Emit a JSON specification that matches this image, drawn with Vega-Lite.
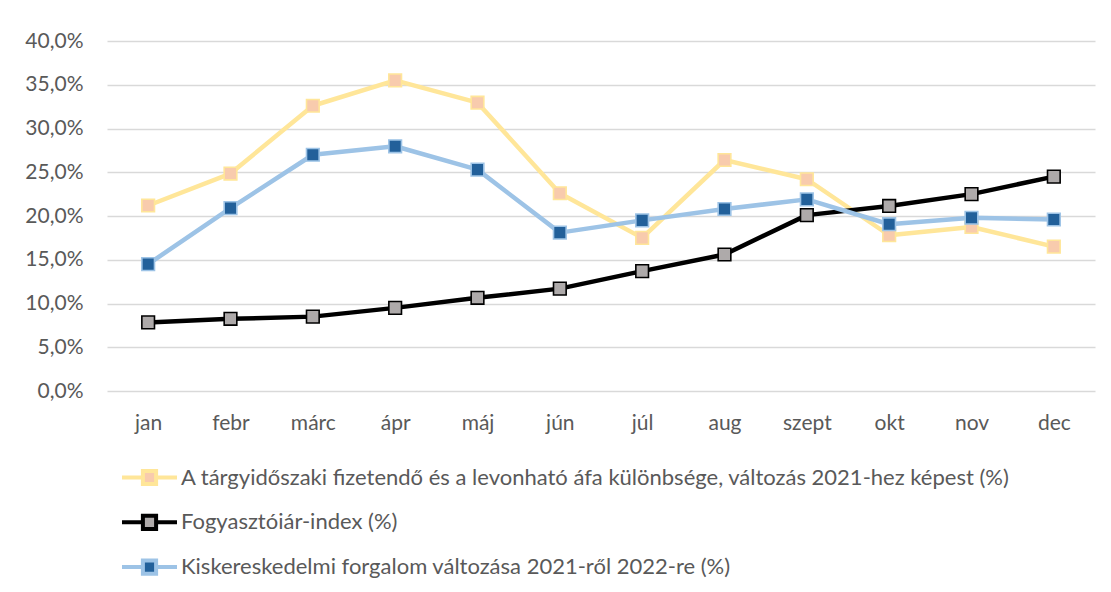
{
  "$schema": "https://vega.github.io/schema/vega-lite/v6.json",
  "autosize": "none",
  "width": 988,
  "height": 350,
  "padding": {"left": 107, "top": 41, "right": 16, "bottom": 201},
  "background": "white",
  "config": {
    "view": {"stroke": null},
    "font": "Lato"
  },
  "data": {
    "values": [
      {"month": "jan", "series": "A tárgyidőszaki fizetendő és a levonható áfa különbsége, változás 2021-hez képest (%)", "value": 0.212},
      {"month": "febr", "series": "A tárgyidőszaki fizetendő és a levonható áfa különbsége, változás 2021-hez képest (%)", "value": 0.2485},
      {"month": "márc", "series": "A tárgyidőszaki fizetendő és a levonható áfa különbsége, változás 2021-hez képest (%)", "value": 0.326},
      {"month": "ápr", "series": "A tárgyidőszaki fizetendő és a levonható áfa különbsége, változás 2021-hez képest (%)", "value": 0.355},
      {"month": "máj", "series": "A tárgyidőszaki fizetendő és a levonható áfa különbsége, változás 2021-hez képest (%)", "value": 0.3295},
      {"month": "jún", "series": "A tárgyidőszaki fizetendő és a levonható áfa különbsége, változás 2021-hez képest (%)", "value": 0.226},
      {"month": "júl", "series": "A tárgyidőszaki fizetendő és a levonható áfa különbsége, változás 2021-hez képest (%)", "value": 0.175},
      {"month": "aug", "series": "A tárgyidőszaki fizetendő és a levonható áfa különbsége, változás 2021-hez képest (%)", "value": 0.264},
      {"month": "szept", "series": "A tárgyidőszaki fizetendő és a levonható áfa különbsége, változás 2021-hez képest (%)", "value": 0.242},
      {"month": "okt", "series": "A tárgyidőszaki fizetendő és a levonható áfa különbsége, változás 2021-hez képest (%)", "value": 0.178},
      {"month": "nov", "series": "A tárgyidőszaki fizetendő és a levonható áfa különbsége, változás 2021-hez képest (%)", "value": 0.1875},
      {"month": "dec", "series": "A tárgyidőszaki fizetendő és a levonható áfa különbsége, változás 2021-hez képest (%)", "value": 0.165},
      {"month": "jan", "series": "Fogyasztóiár-index (%)", "value": 0.0784},
      {"month": "febr", "series": "Fogyasztóiár-index (%)", "value": 0.0825},
      {"month": "márc", "series": "Fogyasztóiár-index (%)", "value": 0.085},
      {"month": "ápr", "series": "Fogyasztóiár-index (%)", "value": 0.095},
      {"month": "máj", "series": "Fogyasztóiár-index (%)", "value": 0.1065},
      {"month": "jún", "series": "Fogyasztóiár-index (%)", "value": 0.117},
      {"month": "júl", "series": "Fogyasztóiár-index (%)", "value": 0.137},
      {"month": "aug", "series": "Fogyasztóiár-index (%)", "value": 0.156},
      {"month": "szept", "series": "Fogyasztóiár-index (%)", "value": 0.201},
      {"month": "okt", "series": "Fogyasztóiár-index (%)", "value": 0.2115},
      {"month": "nov", "series": "Fogyasztóiár-index (%)", "value": 0.225},
      {"month": "dec", "series": "Fogyasztóiár-index (%)", "value": 0.245},
      {"month": "jan", "series": "Kiskereskedelmi forgalom változása 2021-ről 2022-re (%)", "value": 0.145},
      {"month": "febr", "series": "Kiskereskedelmi forgalom változása 2021-ről 2022-re (%)", "value": 0.209},
      {"month": "márc", "series": "Kiskereskedelmi forgalom változása 2021-ről 2022-re (%)", "value": 0.270},
      {"month": "ápr", "series": "Kiskereskedelmi forgalom változása 2021-ről 2022-re (%)", "value": 0.2797},
      {"month": "máj", "series": "Kiskereskedelmi forgalom változása 2021-ről 2022-re (%)", "value": 0.253},
      {"month": "jún", "series": "Kiskereskedelmi forgalom változása 2021-ről 2022-re (%)", "value": 0.181},
      {"month": "júl", "series": "Kiskereskedelmi forgalom változása 2021-ről 2022-re (%)", "value": 0.195},
      {"month": "aug", "series": "Kiskereskedelmi forgalom változása 2021-ről 2022-re (%)", "value": 0.208},
      {"month": "szept", "series": "Kiskereskedelmi forgalom változása 2021-ről 2022-re (%)", "value": 0.219},
      {"month": "okt", "series": "Kiskereskedelmi forgalom változása 2021-ről 2022-re (%)", "value": 0.1906},
      {"month": "nov", "series": "Kiskereskedelmi forgalom változása 2021-ről 2022-re (%)", "value": 0.198},
      {"month": "dec", "series": "Kiskereskedelmi forgalom változása 2021-ről 2022-re (%)", "value": 0.196}
    ]
  },
  "encoding": {
    "x": {
      "field": "month", "type": "ordinal",
      "sort": ["jan", "febr", "márc", "ápr", "máj", "jún", "júl", "aug", "szept", "okt", "nov", "dec"],
      "scale": {"type": "point", "padding": 0.5},
      "axis": {"labelAngle": 0, "labelPadding": 21, "grid": false, "ticks": false, "domain": false, "title": null,
               "labelFont": "Lato", "labelFontSize": 21, "labelColor": "#595959"}
    },
    "y": {
      "field": "value", "type": "quantitative",
      "scale": {"domain": [0, 0.4], "nice": false},
      "axis": {
        "values": [0, 0.05, 0.1, 0.15, 0.2, 0.25, 0.3, 0.35, 0.4],
        "labelExpr": "replace(format(datum.value, '.1%'), '.', ',')",
        "labelPadding": 24, "ticks": false, "domain": false, "title": null,
        "labelFont": "Lato", "labelFontSize": 21, "labelColor": "#595959",
        "grid": true, "gridColor": "#D9D9D9", "gridWidth": 1.5
      }
    },
    "stroke": {
      "field": "series", "type": "nominal",
      "scale": {
        "domain": ["A tárgyidőszaki fizetendő és a levonható áfa különbsége, változás 2021-hez képest (%)", "Fogyasztóiár-index (%)", "Kiskereskedelmi forgalom változása 2021-ről 2022-re (%)"],
        "range": ["#FFE699", "#000000", "#9DC3E6"]
      },
      "legend": {
        "orient": "none", "legendX": 22, "legendY": 416, "title": null, "padding": 0,
        "symbolType": "M-1.5,0L-0.36,0M0.36,0L1.5,0M-0.36,-0.36L0.36,-0.36L0.36,0.36L-0.36,0.36Z",
        "symbolSize": 1344, "symbolStrokeWidth": 4, "symbolOpacity": 1,
        "labelOffset": 11, "rowPadding": 8.8, "labelLimit": 1000,
        "labelFont": "Lato", "labelFontSize": 22, "labelColor": "#595959"
      }
    }
  },
  "layer": [
    {
      "mark": {"type": "line", "strokeWidth": 4.5, "strokeJoin": "round"}
    },
    {
      "mark": {"type": "point", "shape": "square", "filled": true, "size": 160, "strokeWidth": 1.6, "opacity": 1},
      "encoding": {
        "fill": {
          "field": "series", "type": "nominal",
          "scale": {
            "domain": ["A tárgyidőszaki fizetendő és a levonható áfa különbsége, változás 2021-hez képest (%)", "Fogyasztóiár-index (%)", "Kiskereskedelmi forgalom változása 2021-ről 2022-re (%)"],
            "range": ["#F8CBAD", "#AEAAAA", "#22609A"]
          },
          "legend": {
            "orient": "none", "legendX": 22, "legendY": 416, "title": null, "padding": 0,
            "symbolType": "M-1.5,0L-0.36,0M0.36,0L1.5,0M-0.36,-0.36L0.36,-0.36L0.36,0.36L-0.36,0.36Z",
            "symbolSize": 1344, "symbolStrokeWidth": 4, "symbolOpacity": 1,
            "labelOffset": 11, "rowPadding": 8.8, "labelLimit": 1000,
            "labelFont": "Lato", "labelFontSize": 22, "labelColor": "#595959"
          }
        }
      }
    }
  ]
}
